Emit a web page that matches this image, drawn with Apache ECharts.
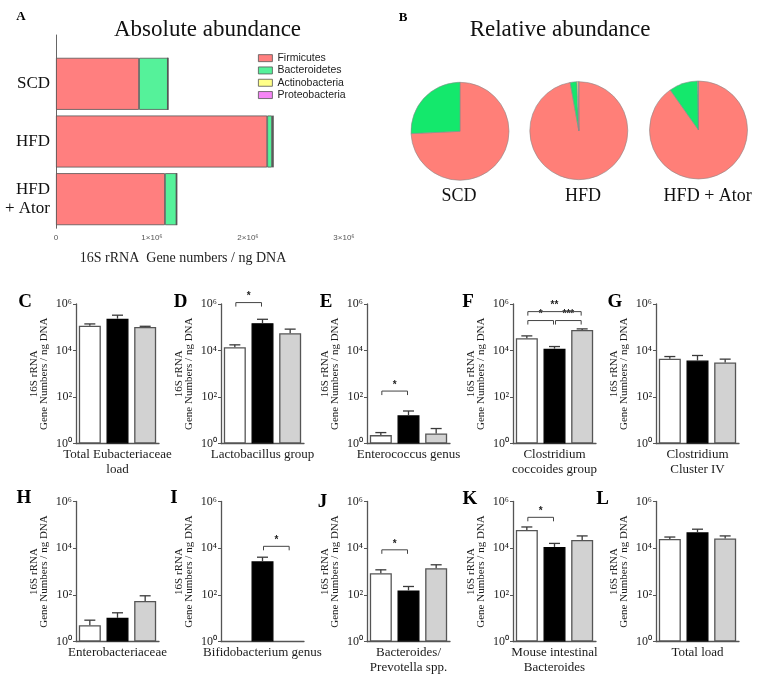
<!DOCTYPE html>
<html>
<head>
<meta charset="utf-8">
<script src="https://cdn.jsdelivr.net/npm/echarts@6/dist/echarts.min.js"></script>
<style>
  html, body { margin: 0; padding: 0; background: #fff; }
  #chart { width: 766px; height: 683px; }
</style>
</head>
<body>
<div id="chart"></div>
<script>
// groups (SCD, HFD, HFD + Ator)
const groups = ['SCD', 'HFD', 'HFD + Ator'];
const groupLabels = ['SCD', 'HFD', 'HFD\n+ Ator'];
const phyla = ['Firmicutes', 'Bacteroidetes', 'Actinobacteria', 'Proteobacteria'];

// A / B: 16S rRNA gene numbers / ng DNA per phylum
const firmicutes = [865000, 2200000, 1135000];
const bacteroidetes = [300000, 50000, 120000];
const actinobacteria = [0, 10000, 2000];
const proteobacteria = [0, 4000, 1000];
const absTicks = ['0', '1×10⁶', '2×10⁶', '3×10⁶'];

// C - L: mean and top of error bar
const meanC = [117000, 234000, 103000];
const errC = [139000, 330000, 110000];
const meanD = [13900, 149000, 55000];
const errD = [17500, 220000, 83000];
const meanE = [2.3, 16.3, 2.7];
const errE = [2.95, 25, 4.4];
const meanF = [33500, 12000, 77000];
const errF = [42500, 14800, 85000];
const meanG = [4400, 3700, 3050];
const errG = [5500, 6100, 4250];
const meanH = [5.0, 10.3, 55];
const errH = [8.2, 17, 91];
const meanI = [null, 2750, null];
const errI = [null, 4100, null];
const meanJ = [850, 155, 1380];
const errJ = [1180, 228, 1940];
const meanK = [60000, 11300, 22500];
const errK = [81000, 16000, 33500];
const meanL = [25000, 48000, 26000];
const errL = [30000, 65000, 33500];

// significance brackets: [from group, to group, level, stars]
const sigD = [[0, 1, 1150000, '*']];
const sigE = [[0, 1, 180, '*']];
const sigF = [[0, 1, 194000, '*'], [1, 2, 194000, '***'], [0, 2, 470000, '**']];
const sigI = [[1, 2, 12000, '*']];
const sigJ = [[0, 1, 8500, '*']];
const sigK = [[0, 1, 210000, '*']];

const logTicks = [1, 100, 10000, 1000000];
const logTickText = ['10⁰', '10²', '10⁴', '10⁶'];

const panels = [
  { letter: 'C', name: 'Total Eubacteriaceae\nload', mean: meanC, err: errC, sig: [] },
  { letter: 'D', name: 'Lactobacillus group', mean: meanD, err: errD, sig: sigD },
  { letter: 'E', name: 'Enterococcus genus', mean: meanE, err: errE, sig: sigE },
  { letter: 'F', name: 'Clostridium\ncoccoides group', mean: meanF, err: errF, sig: sigF },
  { letter: 'G', name: 'Clostridium\nCluster IV', mean: meanG, err: errG, sig: [] },
  { letter: 'H', name: 'Enterobacteriaceae', mean: meanH, err: errH, sig: [] },
  { letter: 'I', name: 'Bifidobacterium genus', mean: meanI, err: errI, sig: sigI },
  { letter: 'J', name: 'Bacteroides/\nPrevotella spp.', mean: meanJ, err: errJ, sig: sigJ },
  { letter: 'K', name: 'Mouse intestinal\nBacteroides', mean: meanK, err: errK, sig: sigK },
  { letter: 'L', name: 'Total load', mean: meanL, err: errL, sig: [] }
];

const SERIF = 'Liberation Serif';
const SANS = 'Liberation Sans';
const phylumColors = ['#ff7f7f', '#55f29a', '#ffff88', '#f585f5'];
const pieColors = ['#ff7f78', '#14e86c', '#ffff80', '#f585f5'];
const groupColors = ['#ffffff', '#000000', '#d2d2d2'];

const panelLefts = [76, 221, 367, 513, 656, 76, 221, 367, 513, 656];
const rowTops = [304, 501.5];
const rowHeights = [139.5, 140];
const letterPos = [[25, 302.5], [180.5, 302.5], [326, 302.5], [468, 302], [615, 302],
                   [24, 498], [174, 498.5], [322.5, 502], [470, 499], [602.5, 499]];

const chart = echarts.init(document.getElementById('chart'));

const grid = [
  { left: 56, top: 55, width: 288, height: 173 },
  { left: 56, top: 35, width: 288, height: 193 }
];
const xAxis = [
  {
    gridIndex: 0, type: 'value', min: 0, max: 3000000, interval: 1000000,
    axisLine: { lineStyle: { color: '#555', width: 1 } },
    axisTick: { length: 3, lineStyle: { color: '#555' } },
    splitLine: { show: false },
    axisLabel: {
      color: '#555', fontSize: 8, fontFamily: SANS, margin: 6,
      formatter: (v) => absTicks[Math.round(v / 1000000)]
    },
    name: '16S rRNA  Gene numbers / ng DNA', nameLocation: 'middle', nameGap: 23,
    nameTextStyle: { color: '#222', fontSize: 14, fontFamily: SERIF, padding: [0, 34, 0, 0] }
  },
  { gridIndex: 1, type: 'value', show: false, min: 0, max: 1 }
];
const yAxis = [
  {
    gridIndex: 0, type: 'category', data: groupLabels, inverse: true,
    axisLine: { lineStyle: { color: '#666', width: 1 } },
    axisTick: { show: false },
    axisLabel: { color: '#111', fontSize: 17, fontFamily: SERIF, lineHeight: 18.5, margin: 6 }
  },
  {
    gridIndex: 1, type: 'value', min: 0, max: 1,
    axisLine: { show: true, lineStyle: { color: '#666', width: 1 } },
    axisTick: { show: false }, axisLabel: { show: false }, splitLine: { show: false }
  }
];

const series = [];
const absData = [firmicutes, bacteroidetes, actinobacteria, proteobacteria];
phyla.forEach((p, i) => {
  series.push({
    type: 'bar', name: p, stack: 'abs', xAxisIndex: 0, yAxisIndex: 0,
    barWidth: 52, data: absData[i],
    itemStyle: { color: phylumColors[i], borderColor: '#555', borderWidth: 0.8 }
  });
});

// B: pies from the same absolute numbers
const pieCenters = [[460, 131.3], [578.8, 130.7], [698.5, 130]];
groups.forEach((g, gi) => {
  series.push({
    type: 'pie', name: g, center: pieCenters[gi], radius: 49,
    startAngle: 90, clockwise: true, silent: true,
    label: { show: false }, labelLine: { show: false },
    itemStyle: { borderColor: '#8a8a8a', borderWidth: 0.6 },
    data: phyla.map((p, i) => ({ name: p, value: absData[i][gi], itemStyle: { color: pieColors[i] } }))
      .filter((d) => d.value > 0)
  });
});

function errorBarItem(params, api) {
  const x = api.value(0);
  const base = api.coord([x, api.value(1)]);
  const top = api.coord([x, api.value(2)]);
  const half = 5.5;
  const st = { stroke: '#3a3a3a', lineWidth: 1.3 };
  return {
    type: 'group',
    children: [
      { type: 'line', shape: { x1: base[0], y1: base[1], x2: top[0], y2: top[1] }, style: st },
      { type: 'line', shape: { x1: top[0] - half, y1: top[1], x2: top[0] + half, y2: top[1] }, style: st }
    ]
  };
}

function bracketRenderer(list) {
  return function (params, api) {
    const b = list[params.dataIndex];
    const p0 = api.coord([b[0], b[2]]);
    const p1 = api.coord([b[1], b[2]]);
    const x0 = p0[0] + 1, x1 = p1[0] - 1, y = p0[1], drop = 4;
    return {
      type: 'group',
      children: [
        { type: 'polyline', shape: { points: [[x0, y + drop], [x0, y], [x1, y], [x1, y + drop]] },
          style: { stroke: '#444', lineWidth: 1, fill: null } },
        { type: 'text', x: (x0 + x1) / 2, y: y - 1,
          style: { text: b[3], textAlign: 'center', textVerticalAlign: 'bottom',
                   font: 'bold 10px ' + SANS, fill: '#222' } }
      ]
    };
  };
}

panels.forEach((pn, k) => {
  const row = k < 5 ? 0 : 1;
  const gi = grid.length;
  grid.push({ left: panelLefts[k], top: rowTops[row], width: 83, height: rowHeights[row] });
  const ai = xAxis.length;
  xAxis.push({
    gridIndex: gi, type: 'category', data: groups,
    axisLine: { lineStyle: { color: '#555', width: 1.3 } },
    axisTick: { show: false }, axisLabel: { show: false },
    name: pn.name, nameLocation: 'middle', nameGap: 4,
    nameTextStyle: { color: '#1a1a1a', fontSize: 13, fontFamily: SERIF, lineHeight: 15, verticalAlign: 'top' }
  });
  yAxis.push({
    gridIndex: gi, type: 'log', logBase: 10, min: 1, max: 1000000, splitNumber: 3,
    axisLine: { show: true, lineStyle: { color: '#555', width: 1.3 } },
    axisTick: { show: true, length: 3, customValues: logTicks, lineStyle: { color: '#555' } },
    splitLine: { show: false },
    axisLabel: {
      color: '#222', fontSize: 12, fontFamily: SERIF, margin: 4, customValues: logTicks,
      formatter: (v) => {
        const i = logTicks.indexOf(Math.round(v));
        return i < 0 ? '' : logTickText[i];
      }
    },
    name: '16S rRNA\nGene Numbers / ng DNA', nameLocation: 'middle', nameGap: 27,
    nameTextStyle: { color: '#1a1a1a', fontSize: 11, fontFamily: SERIF, lineHeight: 10 }
  });
  series.push({
    type: 'bar', xAxisIndex: ai, yAxisIndex: ai, barWidth: 22,
    data: pn.mean.map((v, i) => ({
      value: v,
      itemStyle: { color: groupColors[i], borderColor: i === 1 ? '#000' : '#555', borderWidth: 1.3 }
    }))
  });
  series.push({
    type: 'custom', xAxisIndex: ai, yAxisIndex: ai, z: 3, silent: true,
    renderItem: errorBarItem, encode: { x: 0, y: [1, 2] },
    data: pn.mean.map((v, i) => [i, v, pn.err[i]]).filter((d) => d[1] != null)
  });
  if (pn.sig.length) {
    series.push({
      type: 'custom', xAxisIndex: ai, yAxisIndex: ai, z: 4, silent: true,
      renderItem: bracketRenderer(pn.sig), encode: { x: [0, 1], y: 2 },
      data: pn.sig.map((b) => [b[0], b[1], b[2]])
    });
  }
});

const graphic = [
  { type: 'text', x: 21, y: 17, style: { text: 'A', font: 'bold 13px ' + SERIF, fill: '#000', textAlign: 'center', textVerticalAlign: 'middle' } },
  { type: 'text', x: 403, y: 17.5, style: { text: 'B', font: 'bold 13px ' + SERIF, fill: '#000', textAlign: 'center', textVerticalAlign: 'middle' } },
  { type: 'text', x: 207.5, y: 30, style: { text: 'Absolute abundance', font: '23px ' + SERIF, fill: '#111', textAlign: 'center', textVerticalAlign: 'middle' } },
  { type: 'text', x: 560, y: 30, style: { text: 'Relative abundance', font: '23px ' + SERIF, fill: '#111', textAlign: 'center', textVerticalAlign: 'middle' } }
];
const pieLabelX = [459, 583, 707.7];
groups.forEach((g, i) => {
  graphic.push({ type: 'text', x: pieLabelX[i], y: 196,
    style: { text: g, font: '18px ' + SERIF, fill: '#111', textAlign: 'center', textVerticalAlign: 'middle' } });
});
panels.forEach((pn, k) => {
  graphic.push({ type: 'text', x: letterPos[k][0], y: letterPos[k][1],
    style: { text: pn.letter, font: 'bold 19px ' + SERIF, fill: '#000', textAlign: 'center', textVerticalAlign: 'middle' } });
});

chart.setOption({
  animation: false,
  backgroundColor: '#fff',
  grid: grid,
  xAxis: xAxis,
  yAxis: yAxis,
  legend: {
    data: phyla, orient: 'vertical', left: 258, top: 52, padding: 0,
    itemWidth: 14, itemHeight: 7, itemGap: 0, icon: 'rect', selectedMode: false,
    itemStyle: { borderColor: '#555', borderWidth: 0.8 },
    textStyle: { fontFamily: SANS, fontSize: 10.5, color: '#222', lineHeight: 12.3 }
  },
  series: series,
  graphic: graphic
});
</script>
</body>
</html>
